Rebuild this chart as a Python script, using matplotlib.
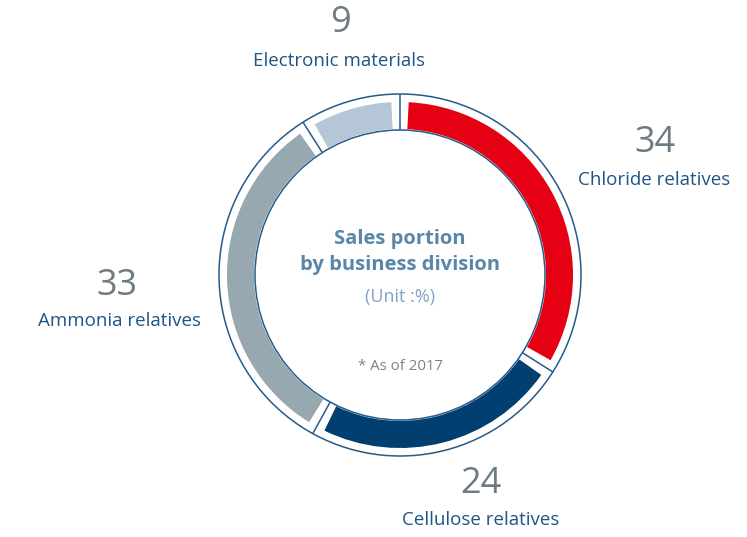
import matplotlib
matplotlib.use("Agg")
import matplotlib.pyplot as plt
from matplotlib.patches import Wedge, Circle
import numpy as np

# Sales portion by business division (Unit: %), as of 2017
categories = ["Chloride relatives", "Cellulose relatives", "Ammonia relatives", "Electronic materials"]
shares = [34, 24, 33, 9]
colors = ["#E50014", "#003F70", "#97A8B1", "#B5C6D8"]

W, H = 747, 537
fig = plt.figure(figsize=(W / 100, H / 100), dpi=100)
ax = fig.add_axes([0, 0, 1, 1])
ax.set_xlim(0, W)
ax.set_ylim(0, H)
ax.set_aspect("equal")
ax.axis("off")

font = "Open Sans"
line_col = "#245B8C"


def py(y):
    # convert a top-down pixel row into the axis y coordinate
    return H - y


cx, cy = 400, py(275)
r_out, r_in = 181, 145
r_band = 173
gap_px = 8

total = sum(shares)
bounds = 90 - 360 * np.concatenate([[0], np.cumsum(shares)]) / total

# outline rings
ax.add_patch(Circle((cx, cy), r_out, fill=False, ec=line_col, lw=1.1))
ax.add_patch(Circle((cx, cy), r_in, fill=False, ec=line_col, lw=1.1))

# radial separators between divisions
for b in bounds[:-1]:
    t = np.deg2rad(b)
    ax.plot([cx + r_in * np.cos(t), cx + r_out * np.cos(t)],
            [cy + r_in * np.sin(t), cy + r_out * np.sin(t)],
            color=line_col, lw=1.1, solid_capstyle="butt")

# coloured segments, inset from the separators
pad = np.rad2deg(gap_px / ((r_in + r_band) / 2))
for i, c in enumerate(colors):
    th_start, th_end = bounds[i], bounds[i + 1]
    ax.add_patch(Wedge((cx, cy), r_band, th_end + pad, th_start - pad,
                       width=r_band - r_in - 1, fc=c, ec="none"))

# value and name labels
num_col = "#6E7B82"
name_col = "#1F5486"
label_pos = {
    "Chloride relatives": ((655, 143), (654, 180)),
    "Cellulose relatives": ((481, 484), (481, 520)),
    "Ammonia relatives": ((117, 286), (120, 321)),
    "Electronic materials": ((340, 23), (339, 61)),
}
for name, val in zip(categories, shares):
    (nx, ny), (lx, ly) = label_pos[name]
    ax.text(nx, py(ny), f"{val}", fontsize=26, color=num_col, family=font,
            ha="center", va="center")
    ax.text(lx, py(ly), name, fontsize=13.5, color=name_col, family=font,
            ha="center", va="center")

# centre captions
ax.text(400, py(239), "Sales portion", fontsize=14.5, fontweight="bold",
        color="#5A86A8", family=font, ha="center", va="center")
ax.text(400, py(265), "by business division", fontsize=14.5, fontweight="bold",
        color="#5A86A8", family=font, ha="center", va="center")
ax.text(400, py(297), "(Unit :%)", fontsize=13, color="#86A3C2", family=font,
        ha="center", va="center")
ax.text(400, py(366), "* As of 2017", fontsize=10.8, color="#808080", family=font,
        ha="center", va="center")

fig.savefig("out.png", dpi=100)
